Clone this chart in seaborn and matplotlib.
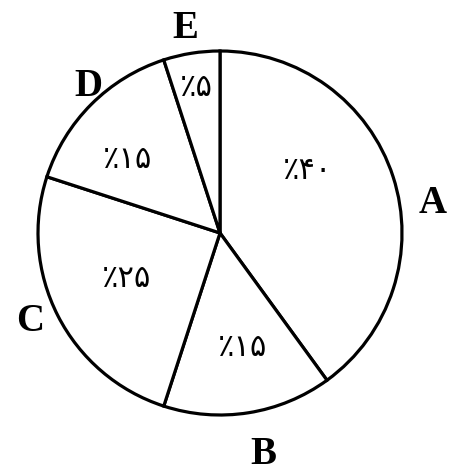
import numpy as np
import matplotlib.pyplot as plt
import seaborn as sns

# slice names and their shares (percent)
categories = ['A', 'B', 'C', 'D', 'E']
shares = [40, 15, 25, 15, 5]

# text placement relative to each wedge's mid angle: (degree offset, radius)
pct_offset = [17.5, 2, -1, 6.5, 0]
pct_radius = [0.59, 0.64, 0.57, 0.65, 0.81]
letter_offset = [-10, 2, -2, -3, 0.5]
letter_radius = [1.18, 1.24, 1.15, 1.08, 1.14]

persian = str.maketrans('0123456789', '۰۱۲۳۴۵۶۷۸۹')

sns.set_style('white')

fig = plt.figure(figsize=(4.5, 4.74), dpi=100)
ax = fig.add_axes([0, 0, 1, 1])

wedges, _ = ax.pie(shares, startangle=90, counterclock=False,
                   colors=['white'] * len(shares),
                   wedgeprops=dict(edgecolor='black', linewidth=2.3))

for i, w in enumerate(wedges):
    mid = (w.theta1 + w.theta2) / 2
    a = np.deg2rad(mid + pct_offset[i])
    ax.text(pct_radius[i] * np.cos(a), pct_radius[i] * np.sin(a),
            '٪' + str(shares[i]).translate(persian),
            ha='center', va='center', fontsize=22,
            color='black', family=['DejaVu Sans'])
    b = np.deg2rad(mid + letter_offset[i])
    ax.text(letter_radius[i] * np.cos(b), letter_radius[i] * np.sin(b),
            categories[i], ha='center', va='center', fontsize=28,
            fontweight='bold', color='black', family=['Liberation Serif'])

scale = 182
ax.set_aspect('equal')
ax.set_xlim(-220 / scale, 230 / scale)
ax.set_ylim(-241 / scale, 233 / scale)
ax.axis('off')

fig.savefig('out.png', dpi=100)
